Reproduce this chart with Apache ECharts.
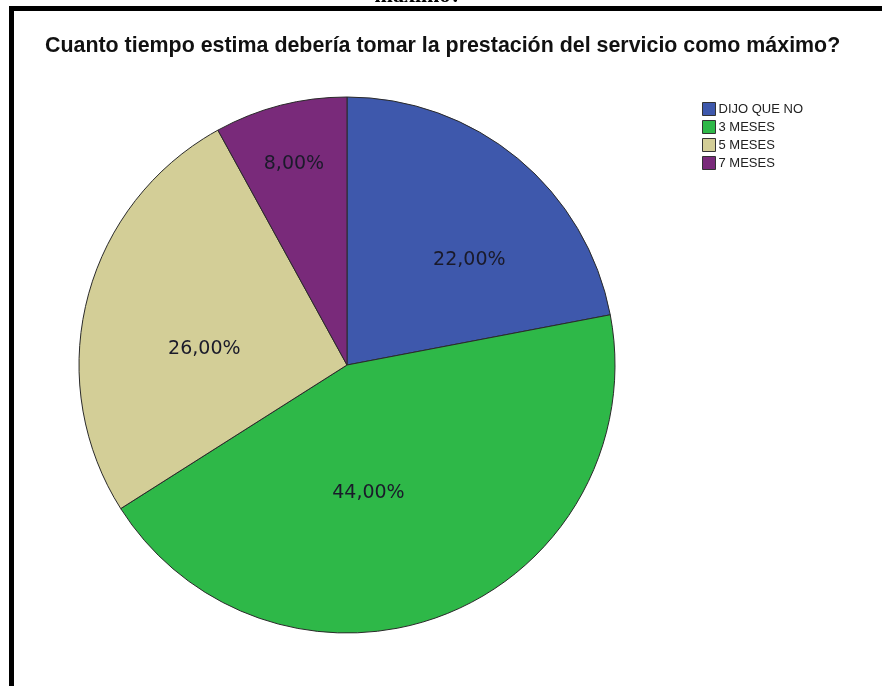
<!DOCTYPE html>
<html>
<head>
<meta charset="utf-8">
<script src="https://cdn.jsdelivr.net/npm/echarts@6/dist/echarts.min.js"></script>
<style>
  html, body { margin: 0; padding: 0; background: #fff; }
  #main { width: 882px; height: 686px; }
</style>
</head>
<body>
<div id="main"></div>
<script>
  // datos del gráfico
  const categorias = ['DIJO QUE NO', '3 MESES', '5 MESES', '7 MESES'];
  const porcentajes = [22, 44, 26, 8];
  const colores = ['#3e58ac', '#2eb848', '#d3ce97', '#792a7a'];

  const titulo = 'Cuanto tiempo estima debería tomar la prestación del servicio como máximo?';

  // pequeño ajuste de las etiquetas (estilo SPSS)
  const ajusteEtiquetas = [[35, 1], [-29, 1], [-10, 18], [-19, -68]];

  const chart = echarts.init(document.getElementById('main'));

  const option = {
    animation: false,
    backgroundColor: '#fff',
    title: {
      text: titulo,
      left: 45,
      top: 36,
      padding: 0,
      textStyle: {
        fontFamily: 'Liberation Sans, Arial, sans-serif',
        fontSize: 21.4,
        fontWeight: 'bold',
        color: '#111'
      }
    },
    legend: {
      orient: 'vertical',
      left: 702,
      top: 102,
      padding: 0,
      itemWidth: 13,
      itemHeight: 13,
      itemGap: 4,
      icon: 'rect',
      selectedMode: false,
      data: categorias,
      itemStyle: { borderColor: '#333', borderWidth: 1 },
      textStyle: {
        fontFamily: 'Liberation Sans, Arial, sans-serif',
        fontSize: 13,
        color: '#222',
        padding: [0, 0, 0, -2]
      }
    },
    graphic: [
      // texto cortado arriba
      {
        type: 'text',
        x: 418,
        y: 7,
        style: {
          text: 'máximo?',
          align: 'center',
          verticalAlign: 'bottom',
          font: 'bold 22px "Liberation Serif", serif',
          fill: '#000'
        }
      },
      // marco
      { type: 'rect', shape: { x: 9, y: 6, width: 873, height: 5 }, style: { fill: '#000' } },
      { type: 'rect', shape: { x: 9, y: 6, width: 5, height: 680 }, style: { fill: '#000' } }
    ],
    series: [
      {
        type: 'pie',
        center: [347, 365],
        radius: 268,
        startAngle: 90,
        clockwise: true,
        label: {
          show: true,
          position: 'inside',
          formatter: function (p) {
            return p.value.toFixed(2).replace('.', ',') + '%';
          },
          fontFamily: 'DejaVu Sans, sans-serif',
          fontSize: 19,
          color: '#1a1a2a'
        },
        labelLine: { show: false },
        labelLayout: function (params) {
          const a = ajusteEtiquetas[params.dataIndex];
          return { dx: a[0], dy: a[1] };
        },
        itemStyle: { borderColor: '#2a2a2a', borderWidth: 1 },
        emphasis: { disabled: true },
        data: categorias.map(function (c, i) {
          return { name: c, value: porcentajes[i], itemStyle: { color: colores[i] } };
        })
      }
    ]
  };

  chart.setOption(option);

  window.addEventListener('resize', function () {
    chart.resize();
  });
</script>
</body>
</html>
